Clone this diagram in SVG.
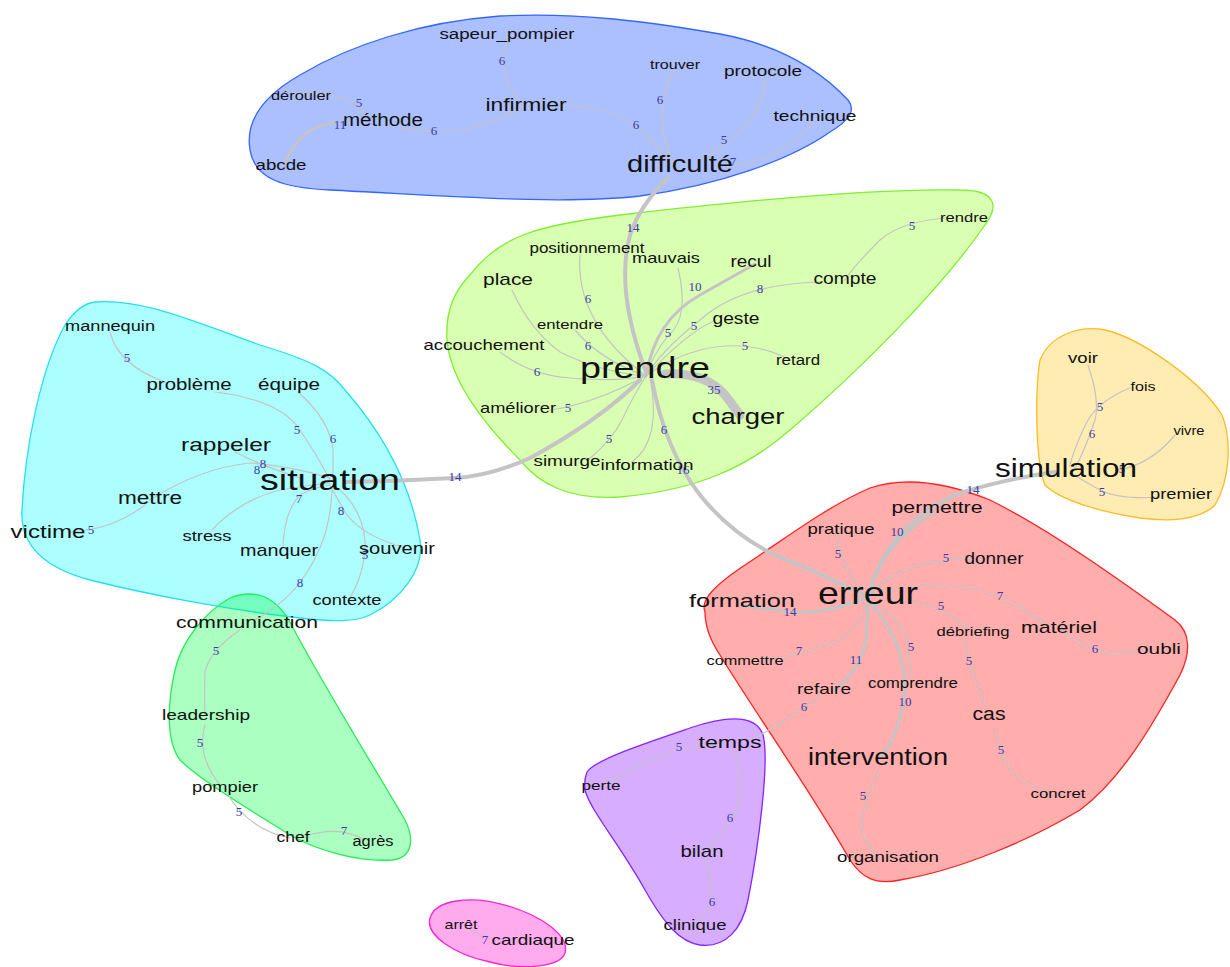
<svg xmlns="http://www.w3.org/2000/svg" width="1230" height="967" viewBox="0 0 1230 967">
<style>
.blob{stroke-width:1.3}
.e{fill:none;stroke:#c4c4c4;stroke-width:1.2;stroke-linecap:round}
.w3{stroke-width:3}
.w4{stroke-width:4}
.w9{stroke-width:9}
text{font-family:"Liberation Sans",Arial,sans-serif;fill:#111;text-anchor:middle}
.l{font-family:"Liberation Serif","Times New Roman",serif;fill:#3a3aa8;font-size:13px}
</style>
<rect width="1230" height="967" fill="#fff"/>
<g id="clusters">
<path class="blob" fill="rgba(48,96,255,0.4)" stroke="#3366ff" d="M250,150 C245,120 265,95 300,75 C350,45 420,22 500,16 C580,12 650,22 720,34 C780,45 820,70 848,100 C856,110 850,120 830,132 C790,160 720,185 640,196 C560,205 450,196 330,190 C285,188 255,180 250,150 Z"/>
<path class="blob" fill="rgba(128,255,0,0.3)" stroke="#80ee30" d="M470,275 C500,235 540,225 620,215 C750,200 880,188 960,190 C995,190 1000,205 985,225 C940,290 860,370 790,430 C750,465 700,490 620,497 C570,500 540,485 520,460 C485,425 450,380 447,340 C445,310 455,290 470,275 Z"/>
<path class="blob" fill="rgba(0,255,255,0.32)" stroke="#22e0f0" d="M95,302 C140,298 190,320 260,345 C310,360 330,370 345,390 C380,430 410,480 420,540 C425,570 400,600 370,615 C355,622 335,622 300,618 C230,610 150,595 90,580 C45,568 20,545 22,510 C25,450 40,370 65,325 C75,310 85,303 95,302 Z"/>
<path class="blob" fill="rgba(0,255,64,0.33)" stroke="#22ee55" d="M250,594 C265,594 278,602 290,622 C320,680 370,760 405,820 C415,840 412,858 392,860 C360,862 320,852 290,835 C250,810 200,780 180,760 C165,740 168,700 175,670 C182,640 205,612 230,598 C237,595 244,594 250,594 Z"/>
<path class="blob" fill="rgba(255,0,0,0.32)" stroke="#ff2020" d="M705,612 C700,600 715,585 745,565 C790,535 830,505 870,488 C900,478 940,480 990,500 C1050,530 1120,580 1175,620 C1192,633 1190,655 1180,675 C1150,730 1120,780 1080,810 C1030,840 960,870 900,880 C875,885 862,878 850,860 C810,790 760,720 720,655 C710,640 705,625 705,612 Z"/>
<path class="blob" fill="rgba(255,192,0,0.3)" stroke="#ffbb22" d="M1040,360 C1050,335 1080,325 1105,330 C1140,338 1200,380 1222,415 C1232,440 1230,480 1215,505 C1200,520 1170,522 1140,518 C1100,512 1060,500 1045,485 C1035,460 1035,390 1040,360 Z"/>
<path class="blob" fill="rgba(128,0,255,0.32)" stroke="#8822ff" d="M587,772 C595,760 640,745 690,728 C720,718 755,712 763,735 C770,760 758,850 748,900 C742,930 725,948 700,945 C680,942 665,925 645,890 C620,845 590,810 585,790 C584,782 585,777 587,772 Z"/>
<path class="blob" fill="rgba(255,0,204,0.33)" stroke="#ff22cc" d="M430,918 C435,900 470,895 505,905 C540,915 570,935 565,953 C560,968 520,970 490,962 C455,955 425,935 430,918 Z"/>
</g>
<g id="edges">
<path class="e w4" d="M668,178 Q640,205 630,235 Q615,290 646,372"/>
<path class="e w4" d="M640,380 Q600,420 530,458 Q490,476 455,478 Q400,481 345,482"/>
<path class="e w4" d="M652,380 Q665,450 700,495 Q740,545 800,565 Q845,585 868,598"/>
<path class="e w9" d="M665,374 Q705,372 725,395 Q735,408 740,415"/>
<path class="e w4" d="M868,598 Q885,525 960,493 Q1010,478 1055,472"/>
<path class="e w3" d="M868,598 Q820,615 790,612 Q765,608 742,606"/>
<path class="e w3" d="M868,598 Q880,545 935,512"/>
<path class="e w3" d="M835,690 Q862,668 866,640 L868,600"/>
<path class="e w3" d="M868,600 Q905,640 905,690 Q900,735 880,757"/>
<path class="e w3" d="M646,376 Q655,320 700,295 Q730,278 755,264"/>
<path class="e w3" d="M285,163 Q300,125 338,122"/>
<path class="e" d="M508,36 Q495,70 520,104"/>
<path class="e" d="M290,95 Q350,88 366,115"/>
<path class="e" d="M400,128 Q440,136 470,128 Q505,118 524,106"/>
<path class="e" d="M560,105 Q620,105 648,138 Q668,158 678,166"/>
<path class="e" d="M674,70 Q652,110 672,165"/>
<path class="e" d="M765,80 Q760,130 700,160"/>
<path class="e" d="M815,120 Q780,165 718,166"/>
<path class="e" d="M580,255 Q575,322 646,376"/>
<path class="e" d="M678,268 Q690,318 668,336 Q652,356 646,376"/>
<path class="e" d="M820,282 Q740,284 700,320 Q662,350 646,376"/>
<path class="e" d="M945,218 Q900,222 880,240 Q852,268 845,280"/>
<path class="e" d="M712,322 Q688,332 646,376"/>
<path class="e" d="M512,290 Q530,330 560,352 Q600,372 646,376"/>
<path class="e" d="M575,330 Q600,360 646,376"/>
<path class="e" d="M500,352 Q530,375 570,378 Q620,382 646,376"/>
<path class="e" d="M550,410 Q590,405 646,376"/>
<path class="e" d="M588,460 Q612,440 622,420 Q632,398 646,376"/>
<path class="e" d="M632,462 Q662,440 650,378"/>
<path class="e" d="M790,360 Q750,338 700,350 Q670,358 646,376"/>
<path class="e" d="M110,332 Q118,365 165,382"/>
<path class="e" d="M215,392 Q280,400 300,430 Q320,460 330,480"/>
<path class="e" d="M298,392 Q330,420 333,450 L333,480"/>
<path class="e" d="M235,452 Q262,466 300,478"/>
<path class="e" d="M70,532 Q112,530 145,505"/>
<path class="e" d="M150,500 Q200,468 250,463 Q292,466 330,478"/>
<path class="e" d="M212,530 Q240,500 280,490 Q310,485 330,483"/>
<path class="e" d="M283,545 Q285,510 300,495 Q312,488 330,485"/>
<path class="e" d="M405,548 Q360,535 345,512 Q335,495 330,485"/>
<path class="e" d="M350,598 Q366,570 365,540 Q362,510 340,490"/>
<path class="e" d="M255,620 Q290,600 305,575 Q330,540 332,490"/>
<path class="e" d="M240,630 Q210,650 205,672 Q204,700 205,714"/>
<path class="e" d="M205,725 Q196,755 220,785"/>
<path class="e" d="M228,795 Q250,830 290,838"/>
<path class="e" d="M305,836 Q340,825 365,840"/>
<path class="e" d="M838,535 Q840,570 868,595"/>
<path class="e" d="M975,560 Q910,555 868,595"/>
<path class="e" d="M1045,625 Q1000,585 930,585 Q895,588 868,595"/>
<path class="e" d="M1060,630 Q1090,652 1112,653 L1150,651"/>
<path class="e" d="M880,597 Q920,600 950,615 Q965,625 970,632"/>
<path class="e" d="M965,640 Q970,670 985,705"/>
<path class="e" d="M995,728 Q1000,770 1030,785 Q1050,795 1055,797"/>
<path class="e" d="M760,662 Q800,655 840,640 Q865,620 868,600"/>
<path class="e" d="M910,680 Q913,645 900,625 Q885,610 868,600"/>
<path class="e" d="M880,770 Q865,800 862,820 Q862,845 880,858"/>
<path class="e" d="M820,697 Q790,718 755,738"/>
<path class="e" d="M1088,365 Q1100,400 1095,420 Q1085,450 1075,468"/>
<path class="e" d="M1130,388 Q1100,400 1088,420 Q1075,445 1070,465"/>
<path class="e" d="M1175,435 Q1150,465 1118,470"/>
<path class="e" d="M1160,497 Q1120,500 1100,490 Q1085,482 1075,475"/>
<path class="e" d="M720,744 Q680,747 650,760 Q620,775 605,785"/>
<path class="e" d="M735,752 Q745,790 735,815 Q720,835 705,850"/>
<path class="e" d="M705,860 Q715,885 710,905 Q700,920 695,925"/>
<path class="e" d="M465,928 L488,937"/>
</g>
<g id="edge-labels">
<text class="l" x="502" y="65">6</text>
<text class="l" x="359" y="107">5</text>
<text class="l" x="340" y="129">11</text>
<text class="l" x="434" y="135">6</text>
<text class="l" x="660" y="104">6</text>
<text class="l" x="636" y="129">6</text>
<text class="l" x="724" y="144">5</text>
<text class="l" x="733" y="166">7</text>
<text class="l" x="633" y="232">14</text>
<text class="l" x="912" y="230">5</text>
<text class="l" x="695" y="291">10</text>
<text class="l" x="760" y="293">8</text>
<text class="l" x="588" y="303">6</text>
<text class="l" x="668" y="337">5</text>
<text class="l" x="694" y="330">5</text>
<text class="l" x="588" y="350">6</text>
<text class="l" x="745" y="350">5</text>
<text class="l" x="537" y="376">6</text>
<text class="l" x="714" y="394">35</text>
<text class="l" x="568" y="412">5</text>
<text class="l" x="664" y="434">6</text>
<text class="l" x="609" y="443">5</text>
<text class="l" x="683" y="474">16</text>
<text class="l" x="455" y="481">14</text>
<text class="l" x="127" y="362">5</text>
<text class="l" x="297" y="434">5</text>
<text class="l" x="333" y="443">6</text>
<text class="l" x="263" y="468">8</text>
<text class="l" x="257" y="474">8</text>
<text class="l" x="299" y="503">7</text>
<text class="l" x="341" y="515">8</text>
<text class="l" x="365" y="559">5</text>
<text class="l" x="300" y="587">8</text>
<text class="l" x="91" y="534">5</text>
<text class="l" x="216" y="655">5</text>
<text class="l" x="200" y="747">5</text>
<text class="l" x="239" y="816">5</text>
<text class="l" x="344" y="835">7</text>
<text class="l" x="973" y="494">14</text>
<text class="l" x="897" y="536">10</text>
<text class="l" x="838" y="558">5</text>
<text class="l" x="946" y="562">5</text>
<text class="l" x="1000" y="600">7</text>
<text class="l" x="790" y="616">14</text>
<text class="l" x="941" y="610">5</text>
<text class="l" x="911" y="651">5</text>
<text class="l" x="799" y="655">7</text>
<text class="l" x="856" y="664">11</text>
<text class="l" x="969" y="665">5</text>
<text class="l" x="1095" y="653">6</text>
<text class="l" x="804" y="711">6</text>
<text class="l" x="905" y="706">10</text>
<text class="l" x="1001" y="754">5</text>
<text class="l" x="863" y="800">5</text>
<text class="l" x="1100" y="411">5</text>
<text class="l" x="1092" y="438">6</text>
<text class="l" x="1122" y="473">5</text>
<text class="l" x="1102" y="496">5</text>
<text class="l" x="679" y="751">5</text>
<text class="l" x="730" y="822">6</text>
<text class="l" x="712" y="906">6</text>
<text class="l" x="485" y="944">7</text>
</g>
<g id="n-blue">
<text x="507" y="39" font-size="14" textLength="135" lengthAdjust="spacingAndGlyphs">sapeur_pompier</text>
<text x="675" y="69" font-size="13" textLength="50" lengthAdjust="spacingAndGlyphs">trouver</text>
<text x="763" y="76" font-size="15" textLength="78" lengthAdjust="spacingAndGlyphs">protocole</text>
<text x="815" y="121" font-size="15" textLength="83" lengthAdjust="spacingAndGlyphs">technique</text>
<text x="301" y="100" font-size="13" textLength="60" lengthAdjust="spacingAndGlyphs">dérouler</text>
<text x="383" y="126" font-size="18" textLength="80" lengthAdjust="spacingAndGlyphs">méthode</text>
<text x="526" y="111" font-size="18" textLength="81" lengthAdjust="spacingAndGlyphs">infirmier</text>
<text x="281" y="170" font-size="14" textLength="51" lengthAdjust="spacingAndGlyphs">abcde</text>
<text x="680" y="172" font-size="24" textLength="106" lengthAdjust="spacingAndGlyphs">difficulté</text>
</g>
<g id="n-green">
<text x="587" y="253" font-size="14" textLength="115" lengthAdjust="spacingAndGlyphs">positionnement</text>
<text x="666" y="263" font-size="15" textLength="68" lengthAdjust="spacingAndGlyphs">mauvais</text>
<text x="751" y="267" font-size="16" textLength="41" lengthAdjust="spacingAndGlyphs">recul</text>
<text x="964" y="222" font-size="13" textLength="48" lengthAdjust="spacingAndGlyphs">rendre</text>
<text x="508" y="285" font-size="17" textLength="50" lengthAdjust="spacingAndGlyphs">place</text>
<text x="845" y="284" font-size="16" textLength="63" lengthAdjust="spacingAndGlyphs">compte</text>
<text x="736" y="324" font-size="16" textLength="47" lengthAdjust="spacingAndGlyphs">geste</text>
<text x="570" y="329" font-size="13" textLength="66" lengthAdjust="spacingAndGlyphs">entendre</text>
<text x="484" y="350" font-size="15" textLength="121" lengthAdjust="spacingAndGlyphs">accouchement</text>
<text x="798" y="365" font-size="14" textLength="44" lengthAdjust="spacingAndGlyphs">retard</text>
<text x="645" y="378" font-size="30" textLength="130" lengthAdjust="spacingAndGlyphs">prendre</text>
<text x="738" y="424" font-size="22" textLength="93" lengthAdjust="spacingAndGlyphs">charger</text>
<text x="518" y="413" font-size="15" textLength="76" lengthAdjust="spacingAndGlyphs">améliorer</text>
<text x="567" y="466" font-size="15" textLength="67" lengthAdjust="spacingAndGlyphs">simurge</text>
<text x="647" y="470" font-size="15" textLength="93" lengthAdjust="spacingAndGlyphs">information</text>
</g>
<g id="n-cyan">
<text x="110" y="331" font-size="14" textLength="90" lengthAdjust="spacingAndGlyphs">mannequin</text>
<text x="189" y="390" font-size="16" textLength="85" lengthAdjust="spacingAndGlyphs">problème</text>
<text x="289" y="390" font-size="16" textLength="62" lengthAdjust="spacingAndGlyphs">équipe</text>
<text x="226" y="451" font-size="19" textLength="90" lengthAdjust="spacingAndGlyphs">rappeler</text>
<text x="330" y="490" font-size="30" textLength="140" lengthAdjust="spacingAndGlyphs">situation</text>
<text x="150" y="504" font-size="18" textLength="64" lengthAdjust="spacingAndGlyphs">mettre</text>
<text x="48" y="538" font-size="19" textLength="75" lengthAdjust="spacingAndGlyphs">victime</text>
<text x="207" y="541" font-size="15" textLength="49" lengthAdjust="spacingAndGlyphs">stress</text>
<text x="279" y="556" font-size="17" textLength="78" lengthAdjust="spacingAndGlyphs">manquer</text>
<text x="397" y="554" font-size="16" textLength="76" lengthAdjust="spacingAndGlyphs">souvenir</text>
<text x="347" y="605" font-size="15" textLength="69" lengthAdjust="spacingAndGlyphs">contexte</text>
</g>
<g id="n-green2">
<text x="247" y="628" font-size="17" textLength="142" lengthAdjust="spacingAndGlyphs">communication</text>
<text x="206" y="720" font-size="15" textLength="88" lengthAdjust="spacingAndGlyphs">leadership</text>
<text x="225" y="792" font-size="15" textLength="66" lengthAdjust="spacingAndGlyphs">pompier</text>
<text x="293" y="842" font-size="14" textLength="33" lengthAdjust="spacingAndGlyphs">chef</text>
<text x="373" y="846" font-size="14" textLength="41" lengthAdjust="spacingAndGlyphs">agrès</text>
</g>
<g id="n-red">
<text x="937" y="513" font-size="17" textLength="91" lengthAdjust="spacingAndGlyphs">permettre</text>
<text x="841" y="534" font-size="15" textLength="67" lengthAdjust="spacingAndGlyphs">pratique</text>
<text x="994" y="564" font-size="16" textLength="59" lengthAdjust="spacingAndGlyphs">donner</text>
<text x="868" y="604" font-size="32" textLength="100" lengthAdjust="spacingAndGlyphs">erreur</text>
<text x="742" y="607" font-size="19" textLength="106" lengthAdjust="spacingAndGlyphs">formation</text>
<text x="1059" y="633" font-size="17" textLength="76" lengthAdjust="spacingAndGlyphs">matériel</text>
<text x="973" y="636" font-size="13" textLength="73" lengthAdjust="spacingAndGlyphs">débriefing</text>
<text x="1159" y="654" font-size="15" textLength="44" lengthAdjust="spacingAndGlyphs">oubli</text>
<text x="745" y="665" font-size="13" textLength="77" lengthAdjust="spacingAndGlyphs">commettre</text>
<text x="824" y="694" font-size="15" textLength="54" lengthAdjust="spacingAndGlyphs">refaire</text>
<text x="913" y="688" font-size="14" textLength="90" lengthAdjust="spacingAndGlyphs">comprendre</text>
<text x="989" y="720" font-size="18" textLength="33" lengthAdjust="spacingAndGlyphs">cas</text>
<text x="878" y="765" font-size="23" textLength="140" lengthAdjust="spacingAndGlyphs">intervention</text>
<text x="1058" y="798" font-size="13" textLength="55" lengthAdjust="spacingAndGlyphs">concret</text>
<text x="888" y="862" font-size="14" textLength="102" lengthAdjust="spacingAndGlyphs">organisation</text>
</g>
<g id="n-yellow">
<text x="1083" y="363" font-size="15" textLength="30" lengthAdjust="spacingAndGlyphs">voir</text>
<text x="1143" y="391" font-size="13" textLength="25" lengthAdjust="spacingAndGlyphs">fois</text>
<text x="1189" y="435" font-size="13" textLength="31" lengthAdjust="spacingAndGlyphs">vivre</text>
<text x="1066" y="477" font-size="25" textLength="142" lengthAdjust="spacingAndGlyphs">simulation</text>
<text x="1181" y="499" font-size="15" textLength="62" lengthAdjust="spacingAndGlyphs">premier</text>
</g>
<g id="n-purple">
<text x="730" y="748" font-size="17" textLength="63" lengthAdjust="spacingAndGlyphs">temps</text>
<text x="601" y="790" font-size="12" textLength="39" lengthAdjust="spacingAndGlyphs">perte</text>
<text x="702" y="857" font-size="17" textLength="43" lengthAdjust="spacingAndGlyphs">bilan</text>
<text x="695" y="930" font-size="15" textLength="63" lengthAdjust="spacingAndGlyphs">clinique</text>
</g>
<g id="n-pink">
<text x="461" y="929" font-size="13" textLength="33" lengthAdjust="spacingAndGlyphs">arrêt</text>
<text x="533" y="945" font-size="15" textLength="83" lengthAdjust="spacingAndGlyphs">cardiaque</text>
</g>
</svg>
